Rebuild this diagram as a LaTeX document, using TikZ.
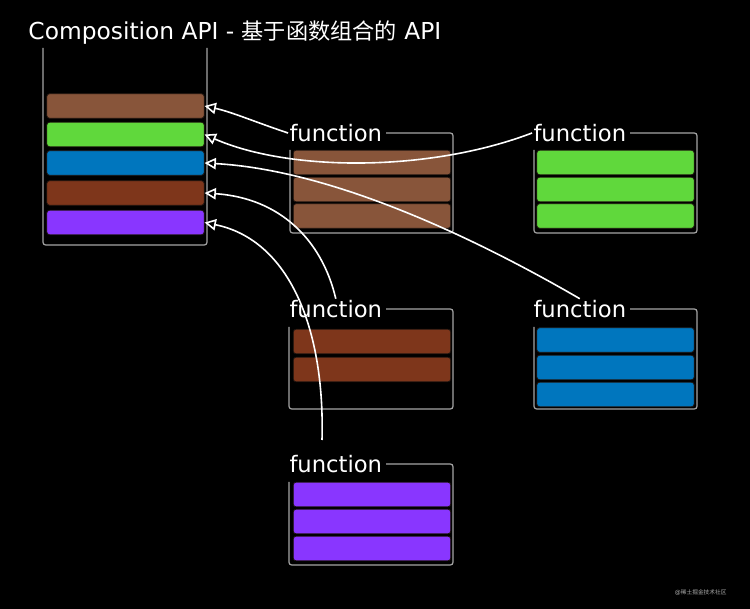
\documentclass[tikz,border=0pt]{standalone}
\usepackage{fontspec}
\setmainfont{DejaVu Sans}
\newfontfamily\cjk[Scale=0.95]{Noto Sans CJK SC}
\usetikzlibrary{arrows.meta}

\definecolor{slotBrown}{RGB}{136,85,58}
\definecolor{slotGreen}{RGB}{96,216,60}
\definecolor{slotBlue}{RGB}{0,118,190}
\definecolor{slotRust}{RGB}{126,54,27}
\definecolor{slotPurple}{RGB}{137,54,255}
\definecolor{frameGray}{RGB}{165,165,165}

\tikzset{every picture/.style={line width=0.75pt}}
\tikzset{
  bar/.style={draw={rgb, 255:red, 30; green, 20; blue, 15}, line width=0.6pt, rounded corners=2pt, inner sep=0pt, minimum width=118pt, minimum height=18.4pt},
  frame/.style={draw=frameGray, line width=0.9pt, rounded corners=2pt},
  chalk/.style={draw=white, line width=1.2pt, -{Triangle[open,length=8.5pt,width=8.5pt]}},
  fnlabel/.style={anchor=west, inner sep=0.75pt, text=white, font=\fontsize{17}{19}\selectfont}
}

\begin{document}
\begin{tikzpicture}[x=0.75pt,y=0.75pt,yscale=-1,xscale=1]
        %Shape: Background
        \fill [black] (0,0) rectangle (750,609) ;

        % Text Node
        \node [anchor=west][inner sep=0.75pt][text=white, font=\fontsize{17.5}{19}\selectfont] (title) at (27,33) {Composition API - {\cjk 基于函数组合的} API};

        %Shape: Open container
        \draw [frame] (43,48) -- (43,245) -- (207,245) -- (207,48) ;
        %Shape: Slots
        \node [bar, fill=slotBrown] (slot1) at (125.5,106) {};
        \node [bar, fill=slotGreen] (slot2) at (125.5,134.5) {};
        \node [bar, fill=slotBlue] (slot3) at (125.5,163) {};
        \node [bar, fill=slotRust] (slot4) at (125.5,193) {};
        \node [bar, fill=slotPurple] (slot5) at (125.5,222.5) {};

        %Shape: Function box (brown)
        \node [fnlabel] (fnA) at (288,133) {function};
        \draw [frame] (386,133) -- (453,133) -- (453,233) -- (290,233) -- (290,150) ;
        \foreach \y in {162.5,189.5,216} \node [bar, fill=slotBrown] at (372,\y) {};

        %Shape: Function box (green)
        \node [fnlabel] (fnB) at (532,133) {function};
        \draw [frame] (630,133) -- (697,133) -- (697,233) -- (534,233) -- (534,150) ;
        \foreach \y in {162.5,189.5,216} \node [bar, fill=slotGreen] at (615.5,\y) {};

        %Shape: Function box (rust)
        \node [fnlabel] (fnC) at (288,309) {function};
        \draw [frame] (386,309) -- (453,309) -- (453,409) -- (289,409) -- (289,327) ;
        \foreach \y in {341.5,369.5} \node [bar, fill=slotRust] at (372,\y) {};

        %Shape: Function box (blue)
        \node [fnlabel] (fnD) at (532,309) {function};
        \draw [frame] (630,309) -- (697,309) -- (697,409) -- (534,409) -- (534,327) ;
        \foreach \y in {340,367.5,394.5} \node [bar, fill=slotBlue] at (615.5,\y) {};

        %Shape: Function box (purple)
        \node [fnlabel] (fnE) at (288,464) {function};
        \draw [frame] (386,464) -- (453,464) -- (453,565) -- (289,565) -- (289,482) ;
        \foreach \y in {494.5,521.5,548.5} \node [bar, fill=slotPurple] at (372,\y) {};

        %Curve Lines
        \coordinate (tailE) at (322,440) ;
        \draw [chalk] (fnA.west) .. controls (255,122) and (232,112) .. (slot1.east) ;
        \draw [chalk] (fnB.west) .. controls (430,172) and (290,172) .. (slot2.east) ;
        \draw [chalk] (fnD.north) .. controls (470,235) and (330,170) .. (slot3.east) ;
        \draw [chalk] (fnC.north) .. controls (322,240) and (280,198) .. (slot4.east) ;
        \draw [chalk] (tailE) .. controls (325,330) and (290,240) .. (slot5.east) ;

        % Text Node
        \node [anchor=east][inner sep=0.75pt][text={rgb, 255:red, 170; green, 170; blue, 170}, font=\fontsize{4.5}{5}\selectfont] (mark) at (728,593) {@{\cjk 稀土掘金技术社区}};

\end{tikzpicture}
\end{document}
